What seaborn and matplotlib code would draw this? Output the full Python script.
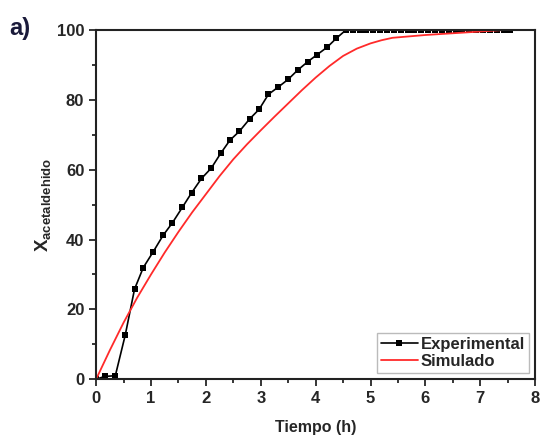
import matplotlib
matplotlib.use("Agg")
import matplotlib.pyplot as plt
import seaborn as sns

# Experimental conversion data
t_exp = [0.0, 0.16, 0.35, 0.53, 0.70, 0.86, 1.04, 1.22, 1.39, 1.57, 1.74, 1.92,
         2.10, 2.27, 2.44, 2.61, 2.80, 2.97, 3.14, 3.32, 3.50, 3.67, 3.86, 4.03,
         4.21, 4.38, 4.55, 4.675, 4.80, 4.925, 5.05, 5.175, 5.30, 5.425, 5.55,
         5.675, 5.80, 5.925, 6.05, 6.175, 6.30, 6.425, 6.55, 6.675, 6.80, 6.925,
         7.05, 7.175, 7.30, 7.425, 7.54]
x_exp = [0.0, 0.8, 1.0, 12.6, 25.8, 32.0, 36.5, 41.2, 44.8, 49.2, 53.4, 57.5,
         60.5, 64.7, 68.5, 71.0, 74.6, 77.3, 81.6, 83.7, 85.9, 88.5, 91.0, 93.0,
         95.1, 97.7, 100, 100, 100, 100, 100, 100, 100, 100, 100,
         100, 100, 100, 100, 100, 100, 100, 100, 100, 100, 100,
         100, 100, 100, 100, 100]

# Simulated curve
t_sim = [0.0, 0.25, 0.5, 0.75, 1.0, 1.25, 1.5, 1.75, 2.0, 2.25, 2.5, 2.75,
         3.0, 3.25, 3.5, 3.75, 4.0, 4.25, 4.5, 4.75, 5.0, 5.2, 5.4, 6.0,
         6.5, 7.0, 7.4]
x_sim = [0.0, 8.3, 16.2, 23.4, 30.0, 36.3, 42.2, 47.8, 53.0, 58.2, 63.0, 67.3,
         71.3, 75.2, 79.0, 82.8, 86.4, 89.7, 92.6, 94.7, 96.2, 97.1, 97.8, 98.6,
         99.1, 99.6, 100.0]

sns.set_style("ticks")
plt.rcParams["font.family"] = ["Liberation Sans", "DejaVu Sans"]
plt.rcParams["mathtext.fontset"] = "custom"
plt.rcParams["mathtext.rm"] = "Liberation Sans"
plt.rcParams["mathtext.bf"] = "Liberation Sans:bold"

fig = plt.figure(figsize=(5.4, 4.43), dpi=100)
ax = fig.add_axes([0.178, 0.144, 0.813, 0.788])

sns.lineplot(x=t_exp, y=x_exp, ax=ax, color="black", marker="s", markersize=4.8,
             markeredgewidth=0, linewidth=1.2, label="Experimental")
sns.lineplot(x=t_sim, y=x_sim, ax=ax, color="#ff2a2a", linewidth=1.3,
             label="Simulado")

ax.set_xlim(0, 8)
ax.set_ylim(0, 100)
ax.set_xticks(range(0, 9))
ax.set_xticks([i + 0.5 for i in range(8)], minor=True)
ax.set_yticks(range(0, 101, 20))
ax.set_yticks(range(10, 100, 20), minor=True)

for s in ax.spines.values():
    s.set_linewidth(1.5)
    s.set_color("#222222")
ax.tick_params(which="major", length=5, width=1.3, direction="out", labelsize=12)
ax.tick_params(which="minor", length=3, width=1.3, direction="out")
for lab in ax.get_xticklabels() + ax.get_yticklabels():
    lab.set_fontweight("bold")

ax.set_xlabel("Tiempo (h)", fontsize=11.5, fontweight="bold", labelpad=10)
ax.set_ylabel(r"$\mathbf{X}_{\mathbf{acetaldehido}}$", fontsize=13.5, labelpad=2)

leg = ax.legend(loc="lower right", fontsize=12, frameon=True, fancybox=False,
                borderpad=0.25, handlelength=2.2, handletextpad=0.2,
                labelspacing=0.15, borderaxespad=0.35)
leg.get_frame().set_edgecolor("#aaaaaa")
leg.get_frame().set_linewidth(1.0)
for txt in leg.get_texts():
    txt.set_fontweight("bold")

fig.text(0.018, 0.92, "a)", fontsize=17, fontweight="bold", color="#1a1a3a")

fig.savefig("out.png", dpi=100)
